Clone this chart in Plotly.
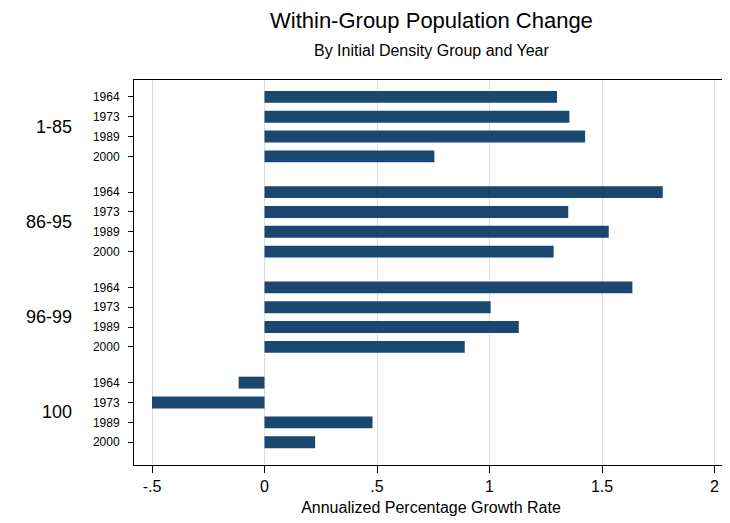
import plotly.graph_objects as go

groups = ["1-85", "86-95", "96-99", "100"]
years = ["1964", "1973", "1989", "2000"]
values = {
    "1-85": [1.30, 1.355, 1.425, 0.755],
    "86-95": [1.77, 1.35, 1.53, 1.285],
    "96-99": [1.635, 1.005, 1.13, 0.89],
    "100": [-0.115, -0.50, 0.48, 0.225],
}

ys, xs, labels = [], [], []
for g, grp in enumerate(groups):
    for r, yr in enumerate(years):
        ys.append(g * 4.8 + r)
        xs.append(values[grp][r])
        labels.append(yr)

fig = go.Figure(go.Bar(x=xs, y=ys, orientation="h", width=0.6,
                       marker=dict(color="#1a476f", line=dict(width=0))))

for g, grp in enumerate(groups):
    fig.add_annotation(x=0, xref="paper", xanchor="right", xshift=-60,
                       y=g * 4.8 + 1.5, yref="y", text=grp, showarrow=False,
                       font=dict(size=18, color="black"))

fig.add_annotation(x=0.5, xref="paper", y=1, yref="paper", yshift=60, yanchor="middle",
                   text="Within-Group Population Change", showarrow=False,
                   font=dict(size=22, color="black"))
fig.add_annotation(x=0.5, xref="paper", y=1, yref="paper", yshift=30, yanchor="middle",
                   text="By Initial Density Group and Year", showarrow=False,
                   font=dict(size=16, color="black"))

fig.update_layout(
    width=730, height=523,
    paper_bgcolor="white", plot_bgcolor="white",
    margin=dict(l=126, r=10, t=72, b=66),
    font=dict(family="Liberation Sans, Arial", color="black"),
    showlegend=False,
    xaxis=dict(range=[-0.58, 2.06], tickvals=[-0.5, 0, 0.5, 1, 1.5, 2],
               ticktext=["-.5", "0", ".5", "1", "1.5", "2"],
               showgrid=True, gridcolor="#dddddd", zeroline=False,
               ticks="outside", ticklen=7, tickcolor="black",
               showline=True, linecolor="black", mirror=True,
               tickfont=dict(size=16),
               title=dict(text="Annualized Percentage Growth Rate", font=dict(size=16), standoff=7)),
    yaxis=dict(range=[18.55, -0.85], tickvals=ys, ticktext=labels,
               showgrid=False, zeroline=False, ticks="outside", ticklen=5, tickcolor="black",
               showline=True, linecolor="black", mirror=True, ticklabelstandoff=6,
               tickfont=dict(size=12)),
)
fig.write_html("out.html")
